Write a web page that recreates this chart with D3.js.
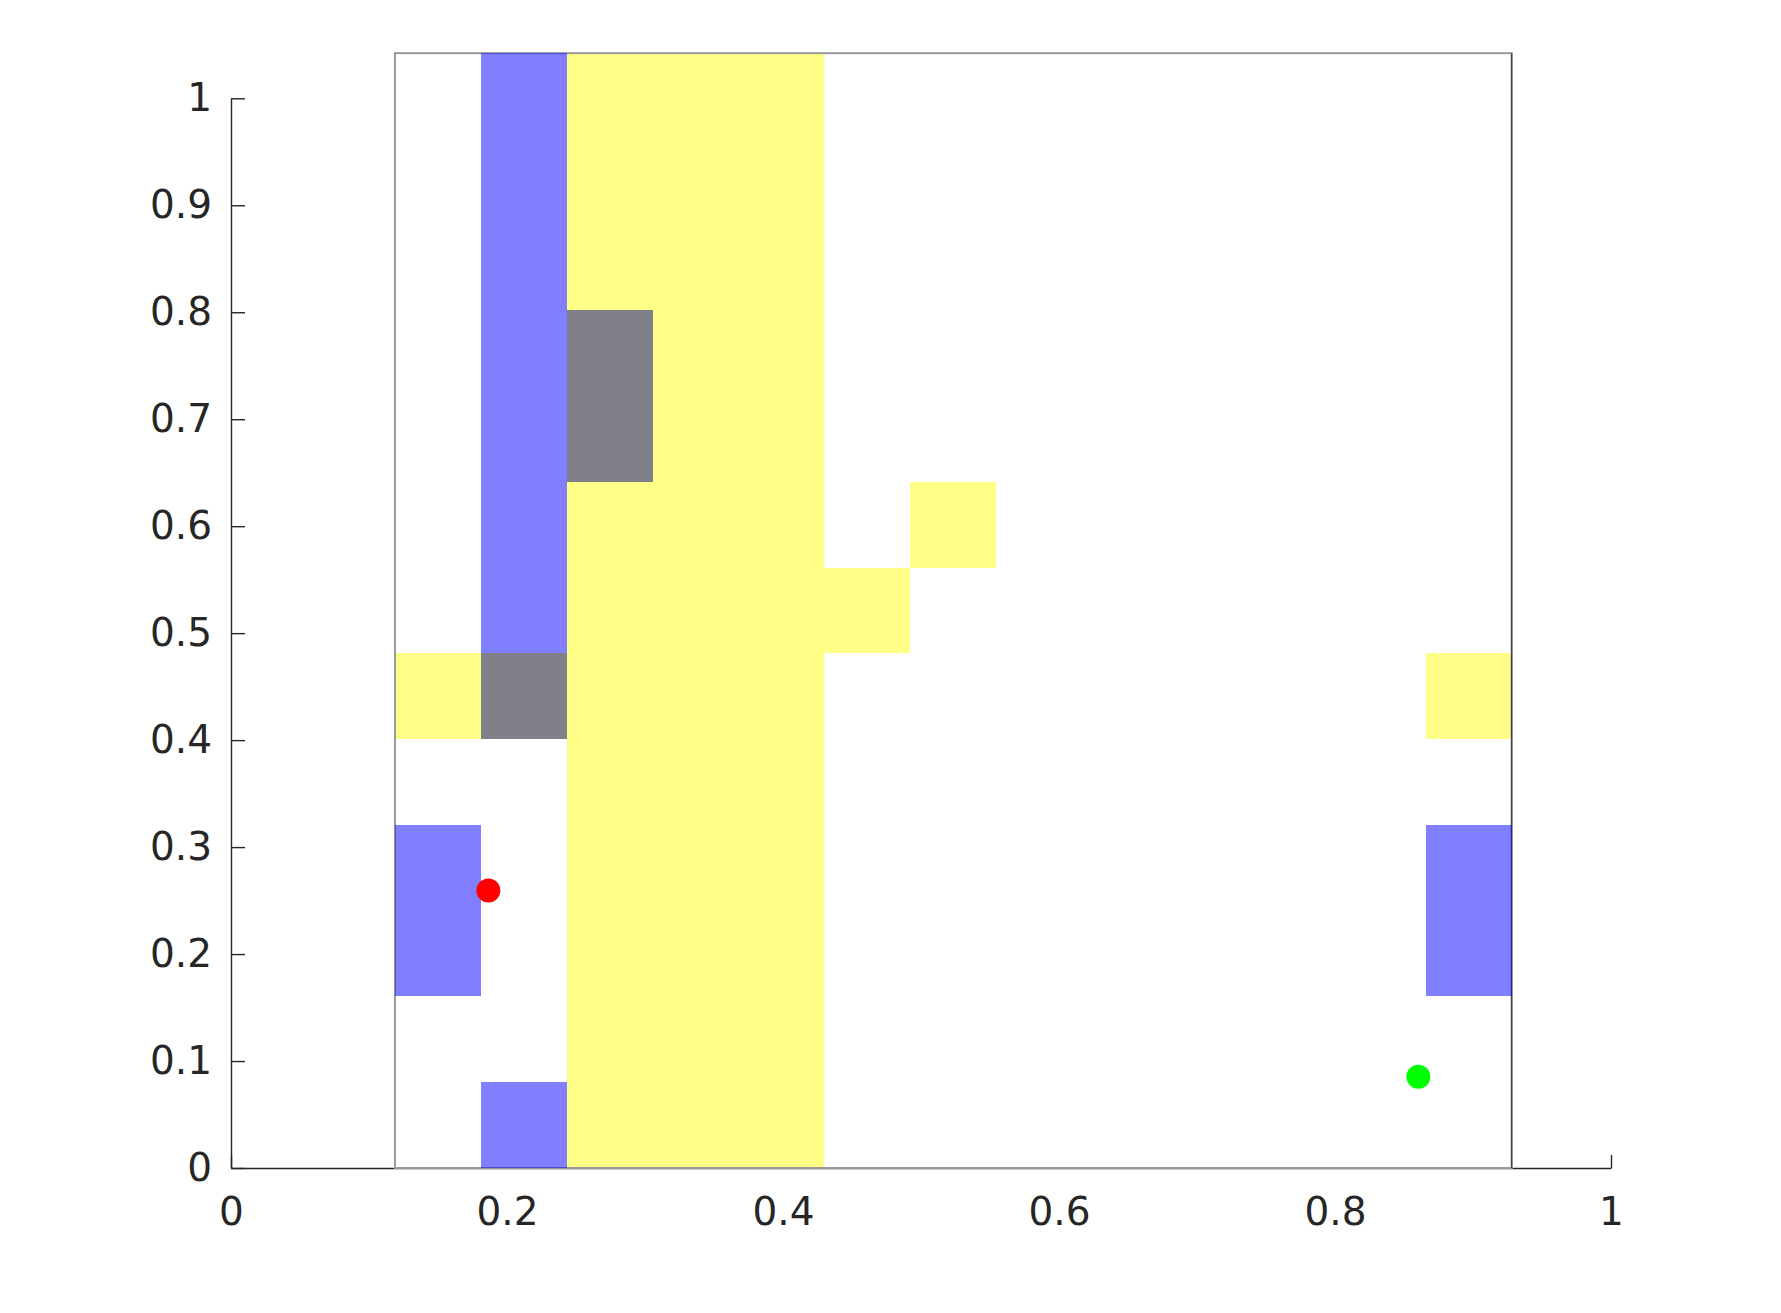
<!DOCTYPE html>
<html lang="en">
<head>
    <meta charset="utf-8">
    <title>Occupancy grid</title>
    <script src="https://d3js.org/d3.v7.min.js"></script>
    <style>
        body {
            margin: 0;
            padding: 0;
            background: #fff;
        }

        .axis text {
            font-family: "DejaVu Sans", sans-serif;
            font-size: 39px;
            fill: #262626;
        }

        .axis path, .axis line {
            stroke: #262626;
            stroke-width: 1.4px;
        }
    </style>
</head>
<body>
<svg id="chart"></svg>
<script>
    // tick labels
    const xTicks = [0, 0.2, 0.4, 0.6, 0.8, 1];
    const yTicks = [0, 0.1, 0.2, 0.3, 0.4, 0.5, 0.6, 0.7, 0.8, 0.9, 1];

    // grid extent in data units, 13 x 13 cells
    const gridX = [0.1188, 0.928];
    const gridY = [0, 1.0422];
    const nCols = 13;
    const nRows = 13;

    // base map, top row first: . free, y yellow, g grey
    const mapRows = [
        "..yyy........",
        "..yyy........",
        "..yyy........",
        "..gyy........",
        "..gyy........",
        "..yyy.y......",
        "..yyyy.......",
        "ygyyy.......y",
        "..yyy........",
        "..yyy........",
        "..yyy........",
        "..yyy........",
        "..yyy........"
    ];

    // blue overlay cells [col, row from bottom]
    const blueCells = [
        [1, 6], [1, 7], [1, 8], [1, 9], [1, 10], [1, 11], [1, 12],
        [0, 2], [0, 3],
        [12, 2], [12, 3],
        [1, 0]
    ];

    // markers
    const pointX = [0.1865, 0.8604];
    const pointY = [0.2595, 0.0853];
    const pointColor = ["#ff0000", "#00ff00"];

    const width = 1781;
    const height = 1313;

    const svg = d3.select("#chart")
        .attr("width", width)
        .attr("height", height);

    const x = d3.scaleLinear().domain([0, 1]).range([231, 1611]);
    const y = d3.scaleLinear().domain([0, 1]).range([1168, 98.3]);

    const fmt = d3.format("~g");

    svg.append("g")
        .attr("class", "axis")
        .attr("transform", `translate(0,${y(0)})`)
        .call(d3.axisBottom(x).tickValues(xTicks).tickFormat(fmt)
            .tickSize(-13).tickSizeOuter(0).tickPadding(29));

    svg.append("g")
        .attr("class", "axis")
        .attr("transform", `translate(${x(0)},0)`)
        .call(d3.axisLeft(y).tickValues(yTicks).tickFormat(fmt)
            .tickSize(-14).tickSizeOuter(0).tickPadding(19));

    const cellW = (gridX[1] - gridX[0]) / nCols;
    const cellH = (gridY[1] - gridY[0]) / nRows;

    const colors = { ".": "#ffffff", "y": "#ffff88", "g": "#80808a" };

    const cells = [];
    mapRows.forEach((row, i) => {
        const r = nRows - 1 - i;
        row.split("").forEach((ch, c) => cells.push({ c, r, v: ch }));
    });

    const grid = svg.append("g");

    grid.selectAll("rect.cell")
        .data(cells)
        .join("rect")
        .attr("class", "cell")
        .attr("x", d => x(gridX[0] + d.c * cellW))
        .attr("y", d => y(gridY[0] + (d.r + 1) * cellH))
        .attr("width", d => x(gridX[0] + (d.c + 1) * cellW) - x(gridX[0] + d.c * cellW) + 0.5)
        .attr("height", d => y(gridY[0] + d.r * cellH) - y(gridY[0] + (d.r + 1) * cellH) + 0.5)
        .attr("fill", d => colors[d.v])
        .attr("shape-rendering", "crispEdges");

    // map border
    grid.append("rect")
        .attr("x", x(gridX[0]))
        .attr("y", y(gridY[1]))
        .attr("width", x(gridX[1]) - x(gridX[0]))
        .attr("height", y(gridY[0]) - y(gridY[1]))
        .attr("fill", "none")
        .attr("stroke", "#999")
        .attr("stroke-width", 2);

    grid.append("line")
        .attr("x1", x(gridX[1]))
        .attr("x2", x(gridX[1]))
        .attr("y1", y(gridY[1]))
        .attr("y2", y(gridY[0]))
        .attr("stroke", "#444")
        .attr("stroke-width", 1.4);

    grid.selectAll("rect.blue")
        .data(blueCells)
        .join("rect")
        .attr("class", "blue")
        .attr("x", d => x(gridX[0] + d[0] * cellW))
        .attr("y", d => y(gridY[0] + (d[1] + 1) * cellH))
        .attr("width", d => x(gridX[0] + (d[0] + 1) * cellW) - x(gridX[0] + d[0] * cellW))
        .attr("height", d => y(gridY[0] + d[1] * cellH) - y(gridY[0] + (d[1] + 1) * cellH))
        .attr("fill", "#0000ff")
        .attr("fill-opacity", 0.5)
        .attr("shape-rendering", "crispEdges");

    svg.append("g")
        .selectAll("circle")
        .data(pointX.map((v, i) => ({ x: v, y: pointY[i], color: pointColor[i] })))
        .join("circle")
        .attr("cx", d => x(d.x))
        .attr("cy", d => y(d.y))
        .attr("r", 12)
        .attr("fill", d => d.color);
</script>
</body>
</html>
